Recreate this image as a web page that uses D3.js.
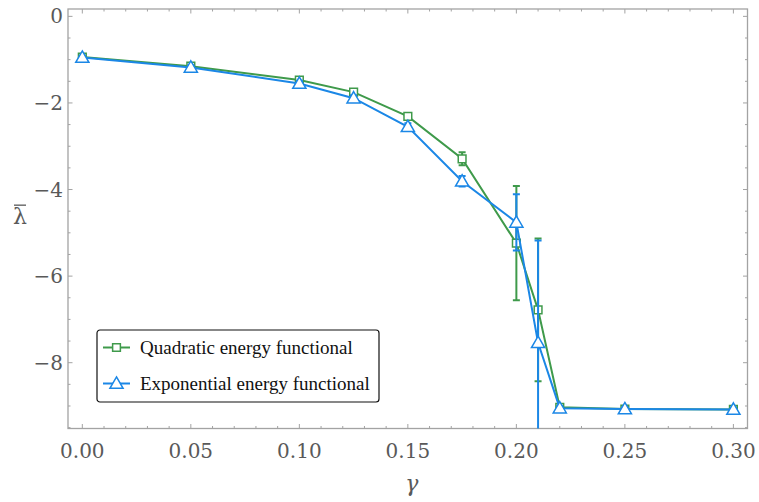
<!DOCTYPE html>
<html>
<head>
<meta charset="utf-8">
<script src="https://cdn.jsdelivr.net/npm/d3@7"></script>
<style>
  body { margin: 0; background: #fff; }
</style>
</head>
<body>
<div id="chart"></div>
<script>
// data
const gamma = [0, 0.05, 0.10, 0.125, 0.15, 0.175, 0.20, 0.21, 0.22, 0.25, 0.30];
const quadratic = [-0.94, -1.15, -1.47, -1.75, -2.31, -3.29, -5.24, -6.78, -9.03, -9.07, -9.08];
const quadraticErr = [0.04, 0.05, 0.05, 0.06, 0.08, 0.15, 1.32, 1.65, 0.05, 0.04, 0.04];
const exponential = [-0.95, -1.18, -1.55, -1.89, -2.55, -3.81, -4.76, -7.54, -9.05, -9.07, -9.08];
const exponentialErr = [0.04, 0.05, 0.06, 0.07, 0.08, 0.12, 0.65, 2.36, 0.05, 0.04, 0.04];
const xTicks = [0, 0.05, 0.10, 0.15, 0.20, 0.25, 0.30];
const yTicks = [0, -2, -4, -6, -8];
const seriesNames = ["Quadratic energy functional", "Exponential energy functional"];

const W = 759, H = 502;
const margin = { top: 9, right: 11.5, bottom: 73.5, left: 68 };
const width = W - margin.left - margin.right,
  height = H - margin.top - margin.bottom;

const green = "#3f9a4b", blue = "#1b87e6", frameCol = "#a3a3a3", textCol = "#595959";

const svg = d3.select("#chart")
  .append("svg")
  .attr("width", W)
  .attr("height", H)
  .append("g")
  .attr("transform", `translate(${margin.left},${margin.top})`);

const x = d3.scaleLinear().domain([-0.0066, 0.3065]).range([0, width]);
const y = d3.scaleLinear().domain([-9.52, 0.17]).range([height, 0]);

// minor ticks (inside frame, all four sides)
const xMinor = d3.range(0, 0.3001, 0.01);
const yMinor = d3.range(-9.5, 0.01, 0.5);
const isMajorX = v => xTicks.some(t => Math.abs(t - v) < 1e-6);
const isMajorY = v => yTicks.some(t => Math.abs(t - v) < 1e-6);

const ticks = svg.append("g").attr("stroke", frameCol).attr("stroke-width", 1);
xMinor.forEach(v => {
  const len = isMajorX(v) ? 4.5 : 2.5;
  ticks.append("line").attr("x1", x(v)).attr("x2", x(v)).attr("y1", height).attr("y2", height - len);
  ticks.append("line").attr("x1", x(v)).attr("x2", x(v)).attr("y1", 0).attr("y2", len);
});
yMinor.forEach(v => {
  const len = isMajorY(v) ? 4.5 : 2.5;
  ticks.append("line").attr("y1", y(v)).attr("y2", y(v)).attr("x1", 0).attr("x2", len);
  ticks.append("line").attr("y1", y(v)).attr("y2", y(v)).attr("x1", width).attr("x2", width - len);
});

// frame
svg.append("rect")
  .attr("width", width).attr("height", height)
  .attr("fill", "none").attr("stroke", frameCol).attr("stroke-width", 1.3);

// tick labels
svg.append("g").selectAll("text")
  .data(xTicks).join("text")
  .attr("x", d => x(d)).attr("y", height + 29)
  .attr("text-anchor", "middle")
  .attr("fill", textCol)
  .style("font", "20px 'DejaVu Serif'")
  .text(d => d3.format(".2f")(d));

svg.append("g").selectAll("text")
  .data(yTicks).join("text")
  .attr("x", -5).attr("y", d => y(d) + 7)
  .attr("text-anchor", "end")
  .attr("fill", textCol)
  .style("font", "20px 'DejaVu Serif'")
  .text(d => d === 0 ? "0" : "\u2212" + Math.abs(d));

// axis labels
svg.append("text")
  .attr("x", x(0.15) + 4).attr("y", height + 62)
  .attr("text-anchor", "middle")
  .attr("fill", textCol)
  .style("font", "italic 22px 'DejaVu Serif'")
  .text("\u03b3");

const yLab = svg.append("g").attr("transform", `translate(-48,${y(-4.8)})`);
yLab.append("text")
  .attr("x", 0).attr("y", 0)
  .attr("text-anchor", "middle")
  .attr("fill", textCol)
  .style("font", "22px 'DejaVu Serif'")
  .text("\u03bb");
yLab.append("line")
  .attr("x1", -6).attr("x2", 6).attr("y1", -19).attr("y2", -19)
  .attr("stroke", textCol).attr("stroke-width", 1.3);

// plot area
svg.append("clipPath").attr("id", "clip")
  .append("rect").attr("width", width).attr("height", height);
const plot = svg.append("g").attr("clip-path", "url(#clip)");

const series = [
  { name: seriesNames[0], vals: quadratic, err: quadraticErr, color: green, shape: "square" },
  { name: seriesNames[1], vals: exponential, err: exponentialErr, color: blue, shape: "triangle" }
];

const line = d3.line().x(d => x(d[0])).y(d => y(d[1]));
const sym = s => d3.symbol().type(s === "square" ? d3.symbolSquare : d3.symbolTriangle).size(s === "square" ? 60 : 75)();

series.forEach(s => {
  const pts = gamma.map((g, i) => [g, s.vals[i], s.err[i]]);
  const g = plot.append("g");
  g.append("path")
    .datum(pts)
    .attr("d", line)
    .attr("fill", "none")
    .attr("stroke", s.color)
    .attr("stroke-width", 2);

  // error bars
  g.selectAll(".err").data(pts).join("line")
    .attr("x1", d => x(d[0])).attr("x2", d => x(d[0]))
    .attr("y1", d => y(d[1] + d[2])).attr("y2", d => y(d[1] - d[2]))
    .attr("stroke", s.color).attr("stroke-width", 2);
  g.selectAll(".capT").data(pts).join("line")
    .attr("x1", d => x(d[0]) - 3.5).attr("x2", d => x(d[0]) + 3.5)
    .attr("y1", d => y(d[1] + d[2])).attr("y2", d => y(d[1] + d[2]))
    .attr("stroke", s.color).attr("stroke-width", 2);
  g.selectAll(".capB").data(pts).join("line")
    .attr("x1", d => x(d[0]) - 3.5).attr("x2", d => x(d[0]) + 3.5)
    .attr("y1", d => y(d[1] - d[2])).attr("y2", d => y(d[1] - d[2]))
    .attr("stroke", s.color).attr("stroke-width", 2);

  // markers
  g.selectAll(".mk").data(pts).join("path")
    .attr("d", sym(s.shape))
    .attr("transform", d => `translate(${x(d[0])},${y(d[1]) + (s.shape === "triangle" ? 1 : 0)})`)
    .attr("fill", "white")
    .attr("stroke", s.color)
    .attr("stroke-width", 1.5);
});

// legend
const legend = svg.append("g").attr("transform", `translate(${97 - margin.left},${330 - margin.top})`);
legend.append("rect")
  .attr("width", 282).attr("height", 72)
  .attr("rx", 3)
  .attr("fill", "white").attr("stroke", "#111").attr("stroke-width", 1.2);

series.forEach((s, i) => {
  const row = legend.append("g").attr("transform", `translate(0,${17.5 + i * 36})`);
  row.append("line").attr("x1", 6).attr("x2", 33).attr("y1", 0).attr("y2", 0)
    .attr("stroke", s.color).attr("stroke-width", 2);
  row.append("path").attr("d", sym(s.shape))
    .attr("transform", `translate(19.5,${s.shape === "triangle" ? 1 : 0})`)
    .attr("fill", "white").attr("stroke", s.color).attr("stroke-width", 1.5);
  row.append("text")
    .attr("x", 43).attr("y", 6)
    .attr("fill", "#111")
    .style("font", "19px 'Liberation Serif'")
    .text(s.name);
});
</script>
</body>
</html>
